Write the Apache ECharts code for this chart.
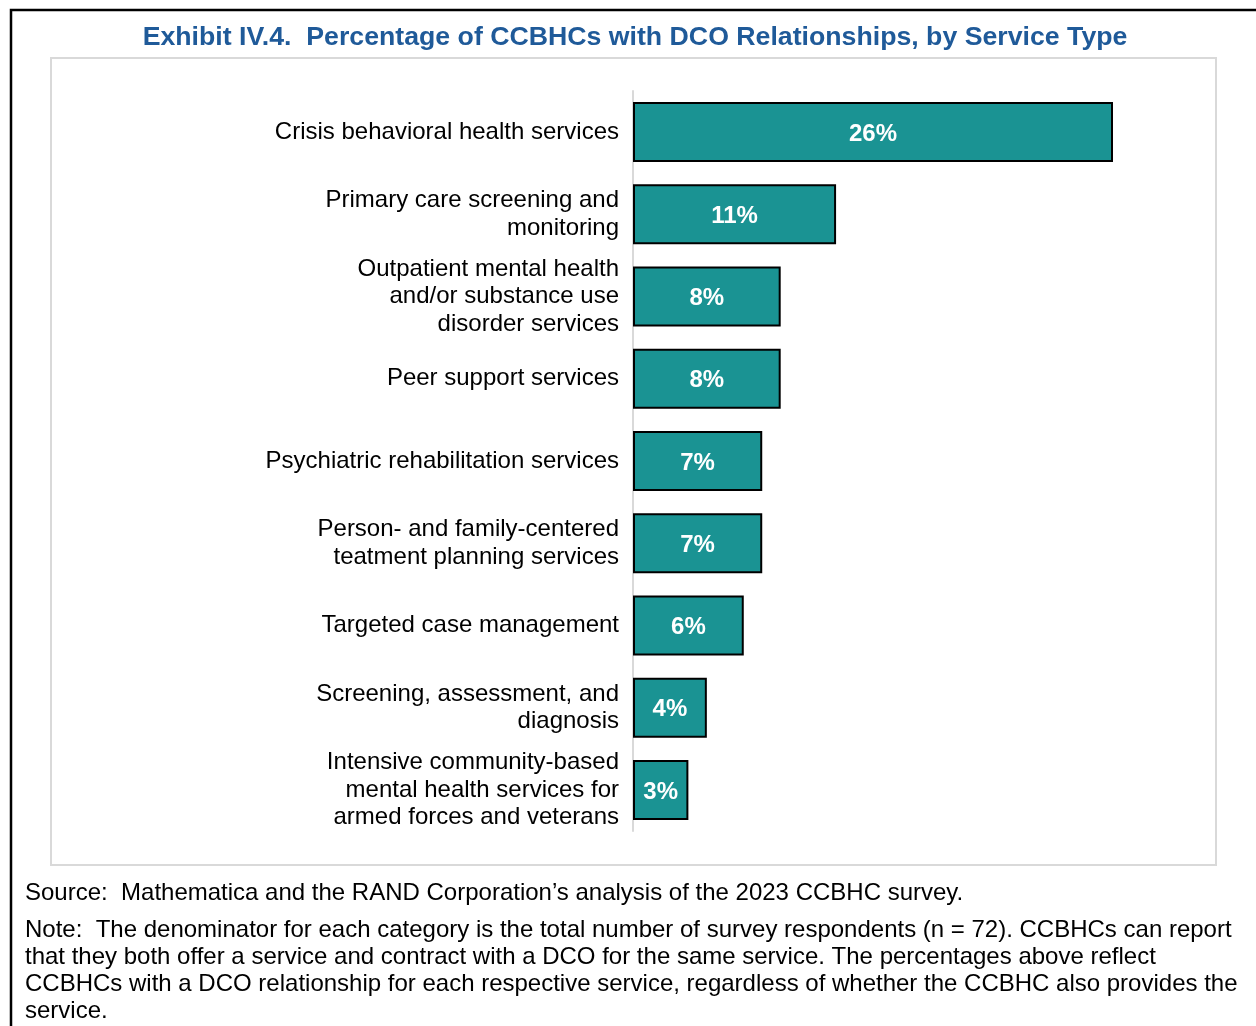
<!DOCTYPE html>
<html>
<head>
<meta charset="utf-8">
<script src="https://cdn.jsdelivr.net/npm/echarts@6/dist/echarts.min.js"></script>
<style>
html,body{margin:0;padding:0;background:#fff;}
#chart{width:1256px;height:1026px;}
</style>
</head>
<body>
<div id="chart"></div>
<script>
const categories = [
  "Crisis behavioral health services",
  "Primary care screening and\nmonitoring",
  "Outpatient mental health\nand/or substance use\ndisorder services",
  "Peer support services",
  "Psychiatric rehabilitation services",
  "Person- and family-centered\nteatment planning services",
  "Targeted case management",
  "Screening, assessment, and\ndiagnosis",
  "Intensive community-based\nmental health services for\narmed forces and veterans"
];
const values = [26, 11, 8, 8, 7, 7, 6, 4, 3];
const titleText = "Exhibit IV.4.  Percentage of CCBHCs with DCO Relationships, by Service Type";
const sourceText = "Source:  Mathematica and the RAND Corporation\u2019s analysis of the 2023 CCBHC survey.";
const noteLines = [
  "Note:  The denominator for each category is the total number of survey respondents (n = 72). CCBHCs can report",
  "that they both offer a service and contract with a DCO for the same service. The percentages above reflect",
  "CCBHCs with a DCO relationship for each respective service, regardless of whether the CCBHC also provides the",
  "service."
];

const FONT = '"Liberation Sans", Arial, sans-serif';
const chart = echarts.init(document.getElementById('chart'), null, {renderer: 'canvas'});

const option = {
  backgroundColor: '#ffffff',
  animation: false,
  title: {
    text: titleText,
    left: 630,
    textAlign: 'center',
    top: 19,
    textStyle: {fontFamily: FONT, fontSize: 26.7, fontWeight: 'bold', color: '#1f5a99'}
  },
  graphic: [
    {type: 'polyline', shape: {points: [[11, 1030], [11, 10], [1260, 10]]},
     style: {stroke: '#000', lineWidth: 2.5, fill: null}, silent: true},
    {type: 'rect', shape: {x: 51, y: 58, width: 1165, height: 807},
     style: {stroke: '#d9d9d9', lineWidth: 2, fill: null}, silent: true},
    {type: 'text', left: 25, top: 881,
     style: {text: sourceText, font: '24px ' + FONT, fill: '#000'}},
    {type: 'text', left: 25, top: 917,
     style: {text: noteLines.join('\n'), font: '24px ' + FONT, fill: '#000', lineHeight: 27}}
  ],
  grid: {left: 633, right: 143, top: 91, bottom: 195, containLabel: false},
  xAxis: {
    type: 'value', min: 0, max: 26, show: false,
    splitLine: {show: false}
  },
  yAxis: {
    type: 'category',
    data: categories,
    inverse: true,
    axisLine: {show: true, lineStyle: {color: '#d9d9d9', width: 2}},
    axisTick: {show: false},
    axisLabel: {
      margin: 14, fontFamily: FONT, fontSize: 24, color: '#000',
      lineHeight: 27.5, align: 'right', padding: [6, 0, 0, 0]
    }
  },
  series: [{
    type: 'bar',
    data: values,
    barWidth: 60,
    itemStyle: {color: '#1a9393', borderColor: '#000', borderWidth: 2},
    label: {
      show: true, position: 'inside', formatter: '{c}%', offset: [0, 2],
      fontFamily: FONT, fontSize: 24, fontWeight: 'bold', color: '#fff'
    }
  }]
};
chart.setOption(option);
</script>
</body>
</html>
